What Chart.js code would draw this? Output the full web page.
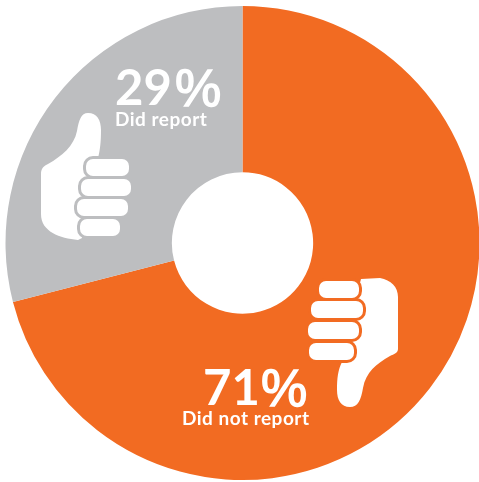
<!DOCTYPE html>
<html>
<head>
<meta charset="utf-8">
<style>
  html, body { margin: 0; padding: 0; background: #fff; overflow: hidden; }
  canvas { display: block; }
</style>
<script src="https://cdn.jsdelivr.net/npm/chart.js@4"></script>
</head>
<body>
<canvas id="reportChart" width="479" height="482"></canvas>
<script>
const categories = ['Did not report', 'Did report'];
const shares = [71, 29];
const sliceColors = ['#f26b22', '#bdbec0'];

// finger bars of each hand: x, y, w, h
const fingersUp = [[86, 159, 43, 17], [81, 179, 50, 17], [77, 199, 51, 17], [80, 219, 40, 17]];
const fingersDown = [[319, 281, 40, 17], [311, 301, 52, 17], [308, 322, 51, 17], [309, 343, 45, 17]];

function drawFingers(ctx, fingers, edge) {
  fingers.forEach(f => {
    ctx.beginPath();
    ctx.roundRect(f[0], f[1], f[2], f[3], 7);
    ctx.lineWidth = 6;
    ctx.strokeStyle = edge;
    ctx.stroke();
    ctx.fillStyle = '#fff';
    ctx.fill();
  });
}

function drawThumbUp(ctx) {
  ctx.beginPath();
  ctx.moveTo(41, 174);
  ctx.bezierCurveTo(41, 168, 44, 166, 48, 164);
  ctx.bezierCurveTo(62, 156, 74, 146, 77, 131);
  ctx.bezierCurveTo(79, 120, 81, 113, 88, 113);
  ctx.bezierCurveTo(97, 113, 101, 120, 101, 130);
  ctx.bezierCurveTo(101, 142, 100, 150, 98, 158);
  ctx.lineTo(88, 180);
  ctx.lineTo(82, 238);
  ctx.lineTo(78, 240);
  ctx.bezierCurveTo(60, 238, 41, 232, 41, 214);
  ctx.closePath();
  ctx.fillStyle = '#fff';
  ctx.fill();
  drawFingers(ctx, fingersUp, sliceColors[1]);
}

function drawThumbDown(ctx) {
  ctx.beginPath();
  ctx.moveTo(361, 279);
  ctx.lineTo(380, 278);
  ctx.bezierCurveTo(391, 280, 398, 287, 398, 297);
  ctx.lineTo(398, 349);
  ctx.bezierCurveTo(398, 353, 394, 354, 390, 356);
  ctx.bezierCurveTo(376, 364, 366, 372, 363, 388);
  ctx.bezierCurveTo(361, 400, 358, 407, 350, 407);
  ctx.bezierCurveTo(341, 407, 337, 400, 337, 390);
  ctx.bezierCurveTo(337, 378, 338, 370, 342, 362);
  ctx.lineTo(345, 340);
  ctx.closePath();
  ctx.fillStyle = '#fff';
  ctx.fill();
  drawFingers(ctx, fingersDown, sliceColors[0]);
}

// big number in bold with a lighter, wider percent sign
function drawShare(ctx, value, x, percentX, baseline) {
  ctx.font = 'bold 49px Lato';
  ctx.fillText(String(value), x, baseline);
  ctx.font = '52px "Liberation Sans"';
  ctx.fillText('%', percentX, baseline + 1);
  ctx.strokeStyle = '#fff';
  ctx.lineWidth = 1.4;
  ctx.strokeText('%', percentX, baseline + 1);
}

const overlay = {
  id: 'overlay',
  afterDatasetsDraw(chart) {
    const ctx = chart.ctx;
    ctx.save();
    drawThumbUp(ctx);
    drawThumbDown(ctx);

    ctx.fillStyle = '#fff';
    ctx.textAlign = 'left';
    ctx.textBaseline = 'alphabetic';
    drawShare(ctx, shares[1], 115, 175, 105);
    drawShare(ctx, shares[0], 203, 261, 405);
    ctx.font = 'bold 19px Lato';
    ctx.letterSpacing = '0.5px';
    ctx.fillText(categories[1], 115, 126);
    ctx.fillText(categories[0], 182, 425);
    ctx.restore();
  }
};

new Chart(document.getElementById('reportChart'), {
  type: 'doughnut',
  data: {
    labels: categories,
    datasets: [{
      data: shares,
      backgroundColor: sliceColors,
      borderWidth: 0
    }]
  },
  options: {
    responsive: false,
    animation: false,
    radius: 237,
    cutout: 70.5,
    layout: { padding: { left: 6, top: 4 } },
    plugins: {
      legend: { display: false },
      tooltip: { enabled: false }
    }
  },
  plugins: [overlay]
});
</script>
</body>
</html>
